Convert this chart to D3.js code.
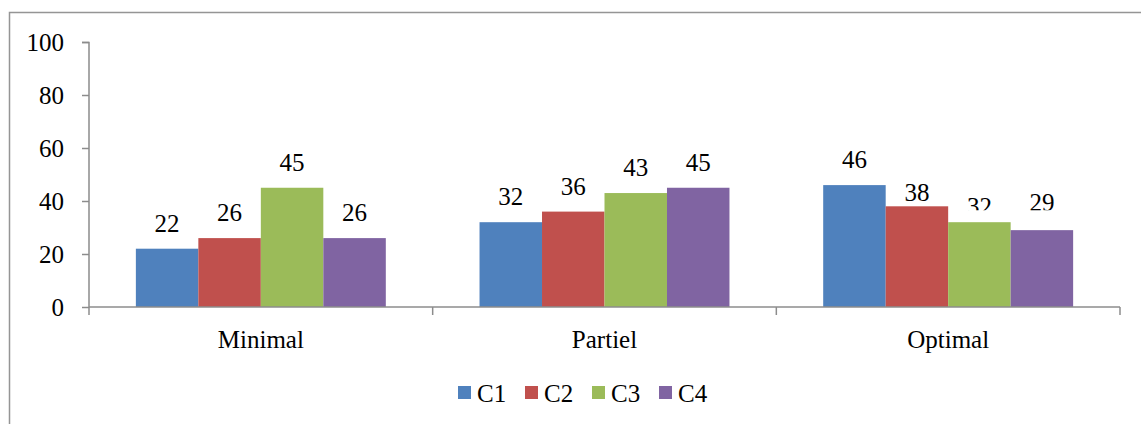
<!DOCTYPE html>
<html>
<head>
<meta charset="utf-8">
<script src="https://cdn.jsdelivr.net/npm/d3@7"></script>
<style>
  body { margin: 0; background: #fff; }
  svg { display: block; }
  .serif { font-family: "Liberation Serif", "Times New Roman", "DejaVu Serif", serif; }
</style>
</head>
<body>
<div id="chart"></div>
<script>
// data
const categories = ["Minimal", "Partiel", "Optimal"];
const seriesNames = ["C1", "C2", "C3", "C4"];
const C1 = [22, 32, 46];
const C2 = [26, 36, 38];
const C3 = [45, 43, 32];
const C4 = [26, 45, 29];
const yTicks = [0, 20, 40, 60, 80, 100];

const colors = ["#4F81BD", "#C0504D", "#9BBB59", "#8064A2"];

const width = 1141, height = 424;
const margin = {top: 42, left: 89, right: 21, bottom: 117};
const plotW = width - margin.left - margin.right;
const plotH = height - margin.top - margin.bottom;
const fontSize = 25;

const rows = [];
categories.forEach((c, i) => {
  [C1, C2, C3, C4].forEach((s, j) => {
    rows.push({cat: c, series: seriesNames[j], value: s[i]});
  });
});

// Excel-ish label nudges (px) for the crowded Optimal group
const labelNudge = {"Optimal|C2": 12, "Optimal|C3": 10, "Optimal|C4": -2};
const clipped = {"Optimal|C3": true, "Optimal|C4": true};

const svg = d3.select("#chart").append("svg")
    .attr("width", width)
    .attr("height", height);

// outer frame
svg.append("rect")
    .attr("x", 9.5).attr("y", 12.5)
    .attr("width", width + 20).attr("height", height + 20)
    .attr("fill", "none")
    .attr("stroke", "#959595")
    .attr("stroke-width", 1.5);

const g = svg.append("g")
    .attr("transform", `translate(${margin.left}, ${margin.top})`);

const x0 = d3.scaleBand()
    .domain(categories)
    .range([0, plotW])
    .paddingInner(3 / 11)
    .paddingOuter(1.5 / 11);

const x1 = d3.scaleBand()
    .domain(seriesNames)
    .range([0, x0.bandwidth()]);

const y = d3.scaleLinear()
    .domain([0, 100])
    .range([plotH, 0]);

const color = d3.scaleOrdinal().domain(seriesNames).range(colors);

// y axis
const yAxis = d3.axisLeft(y).tickValues(yTicks).tickSize(7).tickPadding(18);
g.append("g")
    .call(yAxis)
    .attr("font-family", null)
    .attr("font-size", null)
    .call(a => a.selectAll(".domain").attr("stroke", "#8c8c8c").attr("stroke-width", 1.5).attr("d", `M-7,0.5H0V${plotH}`))
    .call(a => a.selectAll(".tick line").attr("stroke", "#8c8c8c").attr("stroke-width", 1.5))
    .call(a => a.selectAll(".tick text")
        .attr("class", "serif")
        .style("font-size", fontSize + "px")
        .attr("fill", "#000"));

// bars
g.append("g")
  .selectAll("g")
  .data(categories)
  .join("g")
    .attr("transform", d => `translate(${x0(d)}, 0)`)
  .selectAll("rect")
  .data(c => rows.filter(r => r.cat === c))
  .join("rect")
    .attr("x", d => x1(d.series))
    .attr("y", d => y(d.value))
    .attr("width", x1.bandwidth())
    .attr("height", d => plotH - y(d.value))
    .attr("fill", d => color(d.series));

// x axis (ticks at category boundaries)
const boundaries = d3.range(categories.length + 1).map(i => i * x0.step());
const xa = g.append("g").attr("transform", `translate(0, ${plotH})`);
xa.append("line")
    .attr("x1", 0).attr("x2", plotW)
    .attr("stroke", "#8c8c8c").attr("stroke-width", 1.5);
xa.selectAll("line.tk")
  .data(boundaries)
  .join("line")
    .attr("class", "tk")
    .attr("x1", d => d).attr("x2", d => d)
    .attr("y1", 0).attr("y2", 8)
    .attr("stroke", "#8c8c8c").attr("stroke-width", 1.5);
xa.selectAll("text")
  .data(categories)
  .join("text")
    .attr("class", "serif")
    .attr("x", d => x0(d) + x0.bandwidth() / 2)
    .attr("y", 41)
    .attr("text-anchor", "middle")
    .style("font-size", fontSize + "px")
    .text(d => d);

// clip for the half-hidden labels
svg.append("defs").append("clipPath")
    .attr("id", "labelClip")
  .append("rect")
    .attr("x", -margin.left).attr("y", -margin.top)
    .attr("width", width)
    .attr("height", margin.top + y(36.5));

// value labels
g.append("g")
  .selectAll("text")
  .data(rows)
  .join("text")
    .attr("class", "serif")
    .attr("x", d => x0(d.cat) + x1(d.series) + x1.bandwidth() / 2)
    .attr("y", d => y(d.value) - 17 + (labelNudge[d.cat + "|" + d.series] || 0))
    .attr("text-anchor", "middle")
    .style("font-size", fontSize + "px")
    .attr("clip-path", d => clipped[d.cat + "|" + d.series] ? "url(#labelClip)" : null)
    .text(d => d.value);

// legend
const legend = svg.append("g")
    .attr("transform", "translate(458, 386)");
const item = legend.selectAll("g")
  .data(seriesNames)
  .join("g")
    .attr("transform", (d, i) => `translate(${i * 67}, 0)`);
item.append("rect")
    .attr("width", 13).attr("height", 13)
    .attr("fill", d => color(d));
item.append("text")
    .attr("class", "serif")
    .attr("x", 19)
    .attr("y", 16)
    .style("font-size", fontSize + "px")
    .text(d => d);
</script>
</body>
</html>
